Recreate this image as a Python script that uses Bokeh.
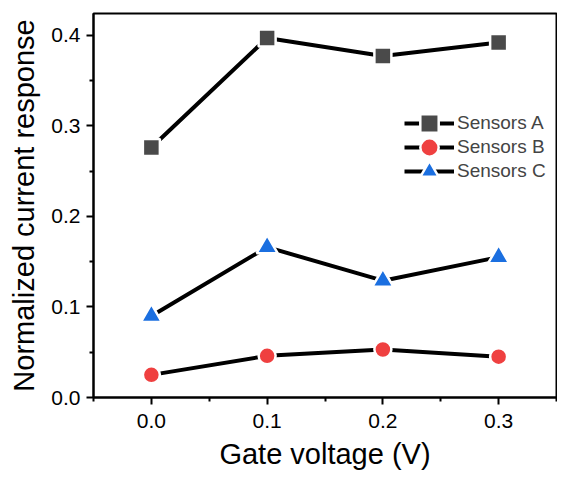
from bokeh.plotting import figure
from bokeh.models import FixedTicker, Range1d, Legend, LegendItem, PrintfTickFormatter
from bokeh.embed import file_html
from bokeh.resources import INLINE

voltage = [0.0, 0.1, 0.2, 0.3]
sensors_a = [0.276, 0.397, 0.377, 0.392]
sensors_b = [0.025, 0.046, 0.053, 0.045]
sensors_c = [0.090, 0.166, 0.129, 0.155]
x_ticks = [0.0, 0.1, 0.2, 0.3]
y_ticks = [0.0, 0.1, 0.2, 0.3, 0.4]

FONT = "Liberation Sans"

p = figure(width=557, height=477, output_backend="svg", toolbar_location=None,
           x_range=Range1d(-0.05, 0.35), y_range=Range1d(0, 0.424),
           min_border_left=93, min_border_right=1, min_border_top=13, min_border_bottom=80)
p.grid.visible = False
p.outline_line_color = "black"
p.outline_line_width = 2
p.background_fill_color = "white"
p.border_fill_color = "white"

for ax in (p.xaxis[0], p.yaxis[0]):
    ax.axis_line_width = 2
    ax.axis_line_color = "black"
    ax.major_tick_line_width = 2
    ax.minor_tick_line_width = 2
    ax.major_tick_out = 7
    ax.major_tick_in = 0
    ax.minor_tick_out = 4
    ax.minor_tick_in = 0
    ax.major_label_text_font = FONT
    ax.major_label_text_font_size = "21px"
    ax.major_label_text_color = "black"
    ax.axis_label_text_font = FONT
    ax.axis_label_text_font_size = "29px"
    ax.axis_label_text_font_style = "normal"
    ax.axis_label_text_color = "black"
    ax.formatter = PrintfTickFormatter(format="%.1f")

p.xaxis.ticker = FixedTicker(ticks=x_ticks, minor_ticks=[-0.05, 0.05, 0.15, 0.25, 0.35])
p.yaxis.ticker = FixedTicker(ticks=y_ticks, minor_ticks=[0.05, 0.15, 0.25, 0.35])
p.xaxis.axis_label = "Gate voltage (V)"
p.yaxis.axis_label = "Normalized current response"
p.xaxis.major_label_standoff = 9
p.yaxis.major_label_standoff = 6
p.xaxis.axis_label_standoff = 7
p.yaxis.axis_label_standoff = 8

series = [
    ("Sensors A", sensors_a, "square", "#4a4a4a", 17),
    ("Sensors B", sensors_b, "circle", "#ef4040", 17),
    ("Sensors C", sensors_c, "triangle", "#1b6fe0", 21),
]
legend_y = [251, 227, 203]
for (name, vals, marker, color, size), ly in zip(series, legend_y):
    ln = p.line(voltage, vals, line_color="black", line_width=4)
    sc = p.scatter(voltage, vals, marker=marker, size=size, fill_color=color,
                   line_color="white", line_width=2.5)
    lg = Legend(items=[LegendItem(label=name, renderers=[ln, sc])], location=(311, ly))
    lg.border_line_color = None
    lg.background_fill_alpha = 0
    lg.label_text_font = FONT
    lg.label_text_font_size = "19px"
    lg.glyph_width = 50
    lg.glyph_height = 46
    lg.label_standoff = 3
    lg.padding = 0
    lg.margin = 0
    p.add_layout(lg)

open("out.html", "w").write(file_html(p, INLINE))
